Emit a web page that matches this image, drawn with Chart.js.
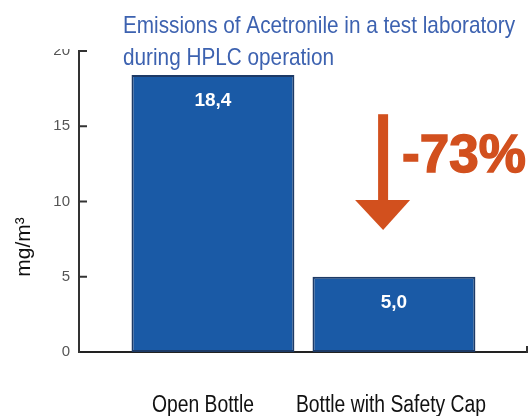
<!DOCTYPE html>
<html>
<head>
<meta charset="utf-8">
<script src="https://cdn.jsdelivr.net/npm/chart.js@4/dist/chart.umd.min.js"></script>
<style>
  html, body { margin: 0; padding: 0; background: #fff; }
  #wrap { width: 532px; height: 416px; }
</style>
</head>
<body>
<div id="wrap"><canvas id="emChart"></canvas></div>
<script>
// data
const categories = ['Open Bottle', 'Bottle with Safety Cap'];
const emissions = [18.4, 5.0];
const valueLabels = ['18,4', '5,0'];
const yTicks = [0, 5, 10, 15, 20];
const titleLines = ['Emissions of Acetronile in a test laboratory', 'during HPLC operation'];
const yTitle = 'mg/m\u00B3';
const reductionLabel = '-73%';

const barBlue = '#1a5aa6';
const arrowRed = '#d2501e';

// draw text squeezed horizontally (condensed look)
function squeezedText(ctx, text, x, y, sx) {
    ctx.save();
    ctx.translate(x, y);
    ctx.scale(sx, 1);
    ctx.fillText(text, 0, 0);
    ctx.restore();
}

// extra drawing: title, axis title, inner ticks, value labels, arrow
const extras = {
    id: 'extras',
    afterDraw(chart) {
        const ctx = chart.ctx;
        const x = chart.scales.x;
        const y = chart.scales.y;
        const area = chart.chartArea;
        ctx.save();

        // hide top part of the "20" label like in the original
        ctx.fillStyle = '#fff';
        ctx.fillRect(30, 0, area.left - 32, y.getPixelForValue(20) - 2);

        // inner tick marks
        ctx.strokeStyle = '#333';
        ctx.lineWidth = 2;
        yTicks.forEach(v => {
            if (v === 0) return;
            const py = y.getPixelForValue(v);
            ctx.beginPath();
            ctx.moveTo(area.left, py);
            ctx.lineTo(area.left + 8, py);
            ctx.stroke();
        });
        ctx.beginPath();
        ctx.moveTo(area.right, area.bottom + 1);
        ctx.lineTo(area.right, area.bottom - 6);
        ctx.stroke();

        // value labels inside bars
        const meta = chart.getDatasetMeta(0);
        ctx.fillStyle = '#fff';
        ctx.font = 'bold 19px "Liberation Sans", Arial, sans-serif';
        ctx.textAlign = 'center';
        ctx.textBaseline = 'middle';
        meta.data.forEach((bar, i) => {
            ctx.fillText(valueLabels[i], bar.x, bar.y + 26);
        });

        // category labels (condensed)
        ctx.fillStyle = '#111';
        ctx.font = '23px "Liberation Sans", Arial, sans-serif';
        ctx.textBaseline = 'alphabetic';
        ctx.textAlign = 'left';
        categories.forEach((c, i) => {
            const w = ctx.measureText(c).width * 0.84;
            squeezedText(ctx, c, x.getPixelForValue(i) - (i === 0 ? 10 : 3) - w / 2, 412, 0.84);
        });

        // arrow
        const ax = x.getPixelForValue(0.94);
        const aTop = y.getPixelForValue(15.8);
        const aHeadTop = y.getPixelForValue(10.1);
        const aTip = y.getPixelForValue(8.1);
        ctx.fillStyle = arrowRed;
        ctx.fillRect(ax - 5, aTop, 10, aHeadTop - aTop + 1);
        ctx.beginPath();
        ctx.moveTo(ax - 28, aHeadTop);
        ctx.lineTo(ax + 27, aHeadTop);
        ctx.lineTo(ax, aTip);
        ctx.closePath();
        ctx.fill();

        ctx.font = 'bold 53px "Liberation Sans", Arial, sans-serif';
        ctx.lineWidth = 1.5;
        ctx.strokeStyle = arrowRed;
        ctx.fillText(reductionLabel, ax + 19, y.getPixelForValue(11.95));
        ctx.strokeText(reductionLabel, ax + 19, y.getPixelForValue(11.95));

        // title (condensed)
        ctx.fillStyle = '#3d62b0';
        ctx.font = '24px "Liberation Sans", Arial, sans-serif';
        const tw = ctx.measureText(titleLines[0]).width;
        const sx = 392 / tw;
        squeezedText(ctx, titleLines[0], 123, 33, sx);
        squeezedText(ctx, titleLines[1], 123, 65, sx);

        // y axis title
        ctx.fillStyle = '#111';
        ctx.font = '21px "Liberation Sans", Arial, sans-serif';
        ctx.translate(24, 247);
        ctx.rotate(-Math.PI / 2);
        ctx.textAlign = 'center';
        ctx.textBaseline = 'middle';
        ctx.fillText(yTitle, 0, 0);

        ctx.restore();
    }
};

new Chart(document.getElementById('emChart'), {
    type: 'bar',
    data: {
        datasets: [{
            data: emissions.map((v, i) => ({ x: i, y: v })),
            backgroundColor: barBlue,
            borderColor: '#1d3a66',
            borderWidth: 2,
            borderSkipped: false,
            categoryPercentage: 1,
            barPercentage: 0.9
        }]
    },
    options: {
        responsive: true,
        maintainAspectRatio: false,
        animation: false,
        layout: { padding: { top: 51, right: 5, left: 0, bottom: 0 } },
        plugins: {
            legend: { display: false },
            tooltip: { enabled: false }
        },
        scales: {
            x: {
                type: 'linear',
                offset: false,
                min: -0.74,
                max: 1.735,
                afterBuildTicks: s => { s.ticks = categories.map((c, i) => ({ value: i })); },
                afterFit: s => { s.height = 64; },
                grid: { display: false, drawTicks: false },
                border: { color: '#222', width: 2 },
                ticks: { display: false }
            },
            y: {
                min: 0,
                max: 20,
                afterBuildTicks: s => { s.ticks = yTicks.map(v => ({ value: v })); },
                afterFit: s => { s.width = 79; },
                grid: { display: false, drawTicks: false },
                border: { color: '#333', width: 2 },
                ticks: {
                    padding: 9,
                    color: '#555',
                    font: { family: '"Liberation Sans", Arial, sans-serif', size: 15 }
                }
            }
        }
    },
    plugins: [extras]
});
</script>
</body>
</html>
